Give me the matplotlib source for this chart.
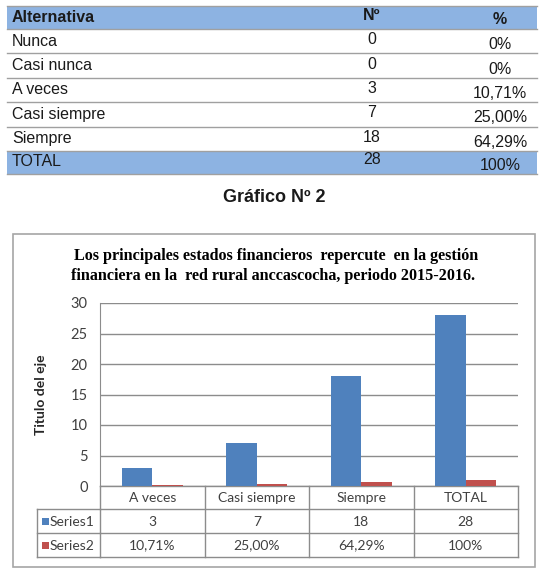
import numpy as np
import matplotlib.pyplot as plt
from matplotlib.patches import Rectangle
from matplotlib.transforms import blended_transform_factory

W, H = 547, 570

# Tabla de frecuencias
alternativas = ['Nunca', 'Casi nunca', 'A veces', 'Casi siempre', 'Siempre']
frecuencias = [0, 0, 3, 7, 18]
porcentajes = ['0%', '0%', '10,71%', '25,00%', '64,29%']
total_n = 28
total_pct = '100%'

# Datos del grafico
categorias = ['A veces', 'Casi siempre', 'Siempre', 'TOTAL']
series1 = [3, 7, 18, 28]
series2 = [0.1071, 0.25, 0.6429, 1.0]
series2_txt = ['10,71%', '25,00%', '64,29%', '100%']
yticks = [0, 5, 10, 15, 20, 25, 30]

azul = '#4f81bd'
rojo = '#c0504d'
celeste = '#8db3e2'
gris = '#8c8c8c'
texto = '#404040'

fig = plt.figure(figsize=(W / 100, H / 100), dpi=100)
bg = fig.add_axes([0, 0, 1, 1])
bg.set_xlim(0, W)
bg.set_ylim(H, 0)
bg.axis('off')

# ---- tabla superior ----
tfont = dict(family='Liberation Sans', fontsize=11.5, color='#1a1a1a')
x0, x1 = 7, 537
bg.add_patch(Rectangle((x0, 6), x1 - x0, 23, color=celeste, lw=0))
bg.add_patch(Rectangle((x0, 151), x1 - x0, 23, color=celeste, lw=0))
row_h = (151 - 29) / len(alternativas)
for y in [6, 29] + [29 + row_h * i for i in range(1, len(alternativas))] + [151, 174]:
    bg.plot([x0, x1], [y, y], color='#a0a0a0', lw=1)

bg.text(12, 17.5, 'Alternativa', ha='left', va='center', weight='bold', **tfont)
bg.text(372, 16, 'Nº', ha='center', va='center', weight='bold', **tfont)
bg.text(500, 20, '%', ha='center', va='center', weight='bold', **tfont)
for i, (a, n, p) in enumerate(zip(alternativas, frecuencias, porcentajes)):
    yc = 29 + row_h * (i + 0.5)
    bg.text(12, yc, a, ha='left', va='center', **tfont)
    bg.text(372, yc - 1.5, str(n), ha='center', va='center', **tfont)
    bg.text(500, yc + 3.5, p, ha='center', va='center', **tfont)
bg.text(12, 161.5, 'TOTAL', ha='left', va='center', **tfont)
bg.text(372, 160, str(total_n), ha='center', va='center', **tfont)
bg.text(500, 165, total_pct, ha='center', va='center', **tfont)

bg.text(274, 197.5, 'Gráfico Nº 2', ha='center', va='center', weight='bold',
        family='Liberation Sans', fontsize=13, color='#1a1a1a')

# ---- marco del grafico ----
bg.add_patch(Rectangle((13, 234), 522, 333, fill=False, ec='#a6a6a6', lw=1.2))
bg.text(276, 256, 'Los principales estados financieros  repercute  en la gestión',
        ha='center', va='center', weight='bold', family='Liberation Serif', fontsize=11.6)
bg.text(273, 276, 'financiera en la  red rural anccascocha, periodo 2015-2016.',
        ha='center', va='center', weight='bold', family='Liberation Serif', fontsize=11.6)
bg.text(41, 395, 'Titulo del eje', ha='center', va='center', rotation=90,
        weight='bold', family='Lato', fontsize=10, color='#262626')

# ---- barras ----
ax = fig.add_axes([100 / W, 1 - 486 / H, 418 / W, 183 / H])
ax.patch.set_alpha(0)
x = np.arange(len(categorias))
ax.bar(x - 0.145, series1, 0.29, color=azul, zorder=3)
ax.bar(x + 0.145, series2, 0.29, color=rojo, zorder=3)
ax.set_xlim(-0.5, len(categorias) - 0.5)
ax.set_ylim(0, 30)
ax.set_yticks(yticks)
ax.set_xticks([])
ax.grid(axis='y', color=gris, lw=1, zorder=0)
for s in ['top', 'right', 'bottom']:
    ax.spines[s].set_visible(False)
ax.spines['left'].set_color(gris)
ax.tick_params(axis='y', length=0, pad=9, labelsize=10.5, labelcolor=texto)
for lab in ax.get_yticklabels():
    lab.set_family('Lato')

# ---- tabla de datos bajo el grafico ----
tr = blended_transform_factory(ax.transData, bg.transData)
xl, xr = -0.5, len(categorias) - 0.5
kw = dict(color=gris, lw=1, transform=tr, clip_on=False)
bg.plot([xl, xr], [486, 486], **kw)
for y in [509, 533, 557]:
    bg.plot([xl, xr], [y, y], **kw)
    bg.plot([37, 100], [y, y], color=gris, lw=1)
bg.plot([37, 37], [509, 557], color=gris, lw=1)
for b in np.arange(xl, xr + 0.01, 1.0):
    bg.plot([b, b], [486, 557], **kw)

cfont = dict(family='Lato', fontsize=10, color=texto, ha='center', va='center', transform=tr)
for i, (c, v1, v2) in enumerate(zip(categorias, series1, series2_txt)):
    bg.text(i, 498, c, **cfont)
    bg.text(i, 521.5, str(v1), **cfont)
    bg.text(i, 545.5, v2, **cfont)

bg.add_patch(Rectangle((42, 518), 7, 7, color=azul, lw=0))
bg.add_patch(Rectangle((42, 542), 7, 7, color=rojo, lw=0))
bg.text(50, 521.5, 'Series1', ha='left', va='center', family='Lato', fontsize=10, color=texto)
bg.text(50, 545.5, 'Series2', ha='left', va='center', family='Lato', fontsize=10, color=texto)

fig.savefig('out.png', dpi=100)
